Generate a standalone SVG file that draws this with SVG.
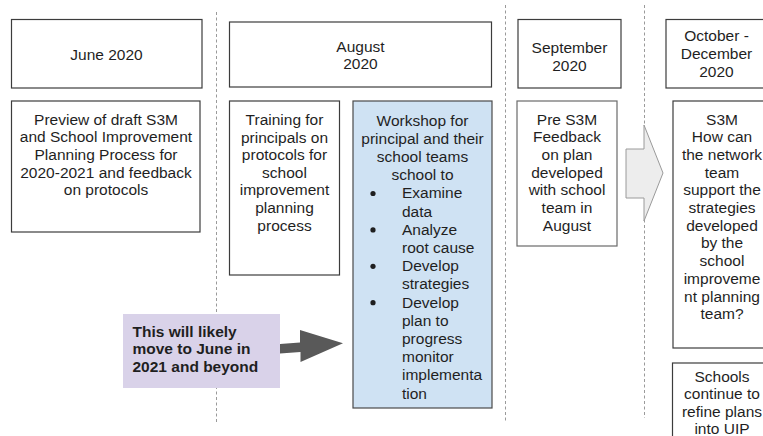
<svg xmlns="http://www.w3.org/2000/svg" width="763" height="436" viewBox="0 0 763 436">
<style>
  text { font-family: "Liberation Sans", Arial, sans-serif; font-size: 15.5px; fill: #1f1f1f; }
  .c { text-anchor: middle; }
  .b { font-weight: bold; }
  .box { fill: #ffffff; stroke: #3c3c3c; stroke-width: 1.2; }
  .lbox { fill: #ffffff; stroke: #6a6a6a; stroke-width: 1.2; }
  .blue { fill: #cfe2f3; stroke: #4a4a4a; stroke-width: 1.2; }
  .purple { fill: #d9d2e9; stroke: none; }
  .sep { stroke: #9a9a9a; stroke-width: 1; stroke-dasharray: 3 2.5; fill: none; }
  .bul { fill: #1f1f1f; }
</style>
<rect x="0" y="0" width="763" height="436" fill="#ffffff"/>

<g id="separators">
  <line class="sep" x1="216.5" y1="12" x2="216.5" y2="424"/>
  <line class="sep" x1="505.5" y1="5" x2="505.5" y2="422"/>
  <line class="sep" x1="644.5" y1="5" x2="644.5" y2="418"/>
</g>

<g id="hdr-june">
  <rect class="box" x="11.5" y="19.5" width="190.5" height="68.5"/>
  <text class="c" x="106.5" y="60">June 2020</text>
</g>
<g id="hdr-august">
  <rect class="box" x="229.5" y="22" width="262" height="65"/>
  <text class="c" x="360.5" y="51.5">August</text>
  <text class="c" x="360.5" y="69">2020</text>
</g>
<g id="hdr-september">
  <rect class="box" x="518" y="19.5" width="103" height="68.5"/>
  <text class="c" x="569.5" y="53">September</text>
  <text class="c" x="569.5" y="70.5">2020</text>
</g>
<g id="hdr-octdec">
  <rect class="box" x="666" y="19.5" width="110" height="68.5"/>
  <text class="c" x="716.5" y="41">October -</text>
  <text class="c" x="716.5" y="59">December</text>
  <text class="c" x="716.5" y="77">2020</text>
</g>

<g id="preview">
  <rect class="box" x="11.5" y="101" width="188.5" height="131"/>
  <text class="c" x="106" y="124.5">Preview of draft S3M</text>
  <text class="c" x="106" y="142.2">and School Improvement</text>
  <text class="c" x="106" y="159.9">Planning Process for</text>
  <text class="c" x="106" y="177.6">2020-2021 and feedback</text>
  <text class="c" x="106" y="195.3">on protocols</text>
</g>

<g id="training">
  <rect class="box" x="229.5" y="101" width="110" height="174"/>
  <text class="c" x="284.5" y="125">Training for</text>
  <text class="c" x="284.5" y="142.6">principals on</text>
  <text class="c" x="284.5" y="160.2">protocols for</text>
  <text class="c" x="284.5" y="177.8">school</text>
  <text class="c" x="284.5" y="195.4">improvement</text>
  <text class="c" x="284.5" y="213">planning</text>
  <text class="c" x="284.5" y="230.6">process</text>
</g>

<g id="workshop">
  <rect class="blue" x="353" y="101" width="139" height="307"/>
  <text class="c" x="422.5" y="125.5">Workshop for</text>
  <text class="c" x="422.5" y="143.7">principal and their</text>
  <text class="c" x="422.5" y="161.9">school teams</text>
  <text class="c" x="422.5" y="180.1">school to</text>
  <circle class="bul" cx="373" cy="193.5" r="2.6"/>
  <text x="402" y="198.3">Examine</text>
  <text x="402" y="216.5">data</text>
  <circle class="bul" cx="373" cy="229.9" r="2.6"/>
  <text x="402" y="234.7">Analyze</text>
  <text x="402" y="252.9">root cause</text>
  <circle class="bul" cx="373" cy="266.3" r="2.6"/>
  <text x="402" y="271.1">Develop</text>
  <text x="402" y="289.3">strategies</text>
  <circle class="bul" cx="373" cy="302.7" r="2.6"/>
  <text x="402" y="307.5">Develop</text>
  <text x="402" y="325.7">plan to</text>
  <text x="402" y="343.9">progress</text>
  <text x="402" y="362.1">monitor</text>
  <text x="402" y="380.3">implementa</text>
  <text x="402" y="398.5">tion</text>
</g>

<g id="pre-s3m">
  <rect class="lbox" x="517" y="101" width="100" height="145"/>
  <text class="c" x="567" y="124.5">Pre S3M</text>
  <text class="c" x="567" y="142.2">Feedback</text>
  <text class="c" x="567" y="159.9">on plan</text>
  <text class="c" x="567" y="177.6">developed</text>
  <text class="c" x="567" y="195.3">with school</text>
  <text class="c" x="567" y="213">team in</text>
  <text class="c" x="567" y="230.7">August</text>
</g>

<g id="s3m">
  <rect class="box" x="673" y="101" width="102" height="247"/>
  <text class="c" x="722" y="124.5">S3M</text>
  <text class="c" x="722" y="142.2">How can</text>
  <text class="c" x="722" y="159.9">the network</text>
  <text class="c" x="722" y="177.6">team</text>
  <text class="c" x="722" y="195.3">support the</text>
  <text class="c" x="722" y="213">strategies</text>
  <text class="c" x="722" y="230.7">developed</text>
  <text class="c" x="722" y="248.4">by the</text>
  <text class="c" x="722" y="266.1">school</text>
  <text class="c" x="722" y="283.8">improveme</text>
  <text class="c" x="722" y="301.5">nt planning</text>
  <text class="c" x="722" y="319.2">team?</text>
</g>

<g id="schools">
  <rect class="box" x="672.5" y="363" width="102" height="90"/>
  <text class="c" x="722" y="381.5">Schools</text>
  <text class="c" x="722" y="399">continue to</text>
  <text class="c" x="722" y="416.5">refine plans</text>
  <text class="c" x="722" y="433.5">into UIP</text>
</g>

<g id="note">
  <rect class="purple" x="123" y="314" width="157" height="74"/>
  <text class="b" x="132.5" y="336.5">This will likely</text>
  <text class="b" x="132.5" y="354">move to June in</text>
  <text class="b" x="132.5" y="371.5">2021 and beyond</text>
</g>

<g id="connectors">
  <polygon points="626,149 644,149 644,125 663,173 644,221 644,198 626,198" fill="#ededed" stroke="#9a9a9a" stroke-width="1"/>
  <polygon points="280,344 300,342.5 300,330 343,343.3 300.5,362 300.5,352 280,353.5" fill="#595959"/>
</g>
</svg>
